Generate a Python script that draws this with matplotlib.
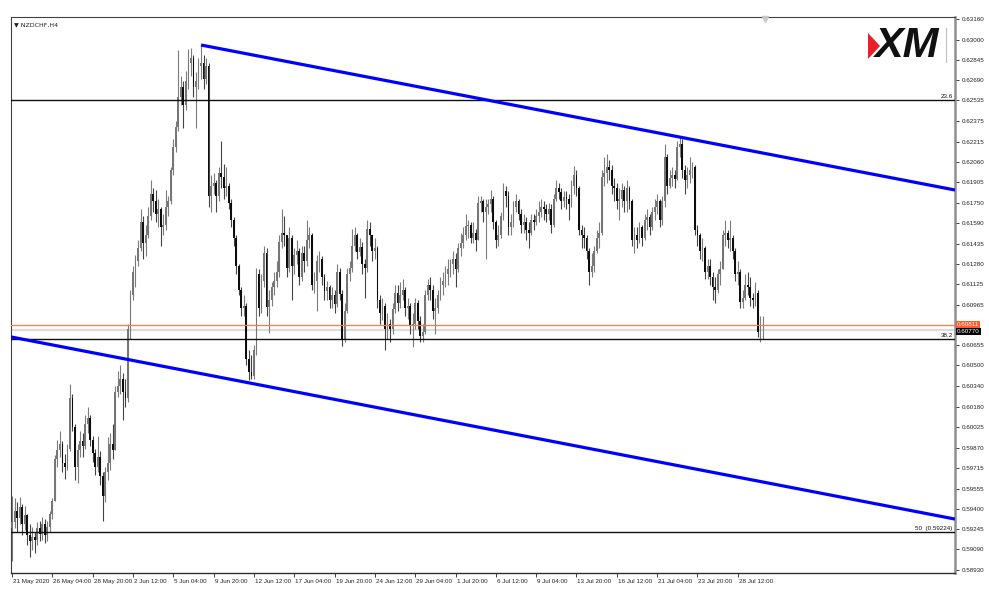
import numpy as np
import matplotlib
matplotlib.use('Agg')
import matplotlib.pyplot as plt
import matplotlib.transforms as mtransforms
from matplotlib.patches import Polygon

plt.rcParams['font.family'] = ['Liberation Sans', 'DejaVu Sans']

# NZDCHF H4 candles (open = previous close)
first_open = 0.5925
closes = [
    0.5930, 0.5938, 0.5933, 0.5941, 0.5928, 0.5935, 0.5920, 0.5915, 0.5918, 0.5916,
    0.5925, 0.5921, 0.5928, 0.5920, 0.5926, 0.5936, 0.5946, 0.5978, 0.5985, 0.5990,
    0.5975, 0.5972, 0.5986, 0.6025, 0.6003, 0.5972, 0.5985, 0.5992, 0.5988, 0.6005,
    0.6010, 0.5993, 0.5983, 0.5972, 0.5980, 0.5965, 0.5950, 0.5968, 0.5975, 0.5990,
    0.5985, 0.6030, 0.6034, 0.6040, 0.6030, 0.6025, 0.6078, 0.6104, 0.6122, 0.6130,
    0.6140, 0.6160, 0.6144, 0.6150, 0.6165, 0.6182, 0.6176, 0.6166, 0.6170, 0.6156,
    0.6158, 0.6172, 0.6176, 0.6200, 0.6218, 0.6233, 0.6256, 0.6264, 0.6250, 0.6268,
    0.6282, 0.6286, 0.6264, 0.6268, 0.6280, 0.6282, 0.6270, 0.6280, 0.6180, 0.6188,
    0.6190, 0.6180, 0.6198, 0.6195, 0.6186, 0.6188, 0.6175, 0.6162, 0.6148, 0.6126,
    0.6108, 0.6094, 0.6096, 0.6055, 0.6045, 0.6042, 0.6062, 0.6120, 0.6094, 0.6115,
    0.6136, 0.6095, 0.6100, 0.6110, 0.6115, 0.6122, 0.6145, 0.6152, 0.6150, 0.6125,
    0.6148, 0.6126, 0.6135, 0.6138, 0.6118, 0.6136, 0.6130, 0.6146, 0.6150, 0.6112,
    0.6115, 0.6130, 0.6132, 0.6118, 0.6107, 0.6110, 0.6100, 0.6104, 0.6097, 0.6122,
    0.6105, 0.6070, 0.6092, 0.6120, 0.6125, 0.6142, 0.6150, 0.6137, 0.6141, 0.6128,
    0.6125, 0.6155, 0.6150, 0.6138, 0.6140, 0.6100, 0.6090, 0.6096, 0.6078, 0.6082,
    0.6078, 0.6093, 0.6106, 0.6098, 0.6104, 0.6108, 0.6094, 0.6096, 0.6080, 0.6082,
    0.6098, 0.6084, 0.6073, 0.6076, 0.6104, 0.6112, 0.6108, 0.6092, 0.6094, 0.6104,
    0.6112, 0.6115, 0.6120, 0.6124, 0.6128, 0.6132, 0.6124, 0.6140, 0.6144, 0.6150,
    0.6157, 0.6158, 0.6148, 0.6152, 0.6146, 0.6175, 0.6176, 0.6168, 0.6172, 0.6174,
    0.6178, 0.6160, 0.6146, 0.6150, 0.6165, 0.6184, 0.6180, 0.6156, 0.6160, 0.6172,
    0.6176, 0.6166, 0.6158, 0.6160, 0.6154, 0.6152, 0.6162, 0.6160, 0.6165, 0.6168,
    0.6172, 0.6170, 0.6166, 0.6170, 0.6158, 0.6178, 0.6186, 0.6183, 0.6176, 0.6179,
    0.6178, 0.6174, 0.6188, 0.6196, 0.6186, 0.6154, 0.6150, 0.6148, 0.6138, 0.6122,
    0.6126, 0.6138, 0.6148, 0.6152, 0.6195, 0.6198, 0.6202, 0.6200, 0.6188, 0.6186,
    0.6176, 0.6178, 0.6185, 0.6176, 0.6186, 0.6176, 0.6146, 0.6150, 0.6146, 0.6156,
    0.6148, 0.6162, 0.6164, 0.6156, 0.6168, 0.6172, 0.6176, 0.6162, 0.6176, 0.6210,
    0.6188, 0.6194, 0.6196, 0.6193, 0.6218, 0.6220, 0.6200, 0.6192, 0.6196, 0.6200,
    0.6202, 0.6154, 0.6150, 0.6138, 0.6140, 0.6122, 0.6126, 0.6118, 0.6110, 0.6108,
    0.6120, 0.6124, 0.6150, 0.6152, 0.6146, 0.6148, 0.6138, 0.6120, 0.6122, 0.6099,
    0.6102, 0.6112, 0.6110, 0.6102, 0.6100, 0.6106, 0.6076, 0.6080, 0.6081,
]
highs = [
    0.5950, 0.5948, 0.5945, 0.5949, 0.5944, 0.5942, 0.5936, 0.5928, 0.5926, 0.5922,
    0.5930, 0.5931, 0.5934, 0.5932, 0.5931, 0.5938, 0.5948, 0.5981, 0.5993, 0.6000,
    0.5992, 0.5982, 0.5990, 0.6036, 0.6028, 0.6005, 0.5990, 0.6000, 0.5998, 0.6012,
    0.6018, 0.6012, 0.5996, 0.5986, 0.5996, 0.5984, 0.5968, 0.5972, 0.5995, 0.5998,
    0.6005, 0.6034, 0.6046, 0.6050, 0.6044, 0.6040, 0.6082, 0.6108, 0.6126, 0.6135,
    0.6146, 0.6170, 0.6165, 0.6158, 0.6172, 0.6192, 0.6186, 0.6185, 0.6178, 0.6172,
    0.6166, 0.6185, 0.6180, 0.6202, 0.6224, 0.6238, 0.6292, 0.6272, 0.6268, 0.6276,
    0.6293, 0.6294, 0.6288, 0.6275, 0.6286, 0.6296, 0.6288, 0.6286, 0.6282, 0.6196,
    0.6198, 0.6192, 0.6202, 0.6222, 0.6205, 0.6202, 0.6190, 0.6178, 0.6164, 0.6150,
    0.6128, 0.6110, 0.6104, 0.6098, 0.6062, 0.6058, 0.6066, 0.6125, 0.6124, 0.6120,
    0.6142, 0.6140, 0.6108, 0.6114, 0.6122, 0.6130, 0.6150, 0.6170, 0.6165, 0.6150,
    0.6156, 0.6150, 0.6140, 0.6146, 0.6140, 0.6142, 0.6142, 0.6162, 0.6156, 0.6152,
    0.6122, 0.6135, 0.6138, 0.6134, 0.6120, 0.6115, 0.6112, 0.6110, 0.6108, 0.6128,
    0.6125, 0.6108, 0.6098, 0.6125, 0.6130, 0.6155, 0.6156, 0.6152, 0.6148, 0.6145,
    0.6132, 0.6162, 0.6160, 0.6150, 0.6148, 0.6142, 0.6104, 0.6102, 0.6098, 0.6090,
    0.6086, 0.6098, 0.6112, 0.6112, 0.6114, 0.6116, 0.6110, 0.6102, 0.6098, 0.6090,
    0.6102, 0.6100, 0.6088, 0.6082, 0.6108, 0.6116, 0.6118, 0.6112, 0.6102, 0.6108,
    0.6118, 0.6122, 0.6126, 0.6132, 0.6132, 0.6138, 0.6136, 0.6144, 0.6152, 0.6156,
    0.6166, 0.6162, 0.6160, 0.6160, 0.6155, 0.6180, 0.6180, 0.6178, 0.6178, 0.6178,
    0.6185, 0.6180, 0.6162, 0.6158, 0.6168, 0.6190, 0.6188, 0.6184, 0.6166, 0.6176,
    0.6182, 0.6178, 0.6170, 0.6166, 0.6164, 0.6160, 0.6166, 0.6166, 0.6170, 0.6176,
    0.6178, 0.6176, 0.6174, 0.6175, 0.6174, 0.6182, 0.6192, 0.6190, 0.6186, 0.6184,
    0.6184, 0.6182, 0.6192, 0.6203, 0.6200, 0.6188, 0.6158, 0.6156, 0.6150, 0.6140,
    0.6136, 0.6142, 0.6154, 0.6160, 0.6200, 0.6210, 0.6212, 0.6208, 0.6204, 0.6194,
    0.6190, 0.6186, 0.6190, 0.6188, 0.6192, 0.6188, 0.6178, 0.6156, 0.6156, 0.6160,
    0.6158, 0.6166, 0.6170, 0.6166, 0.6172, 0.6178, 0.6182, 0.6178, 0.6180, 0.6220,
    0.6212, 0.6200, 0.6202, 0.6200, 0.6222, 0.6226, 0.6224, 0.6204, 0.6202, 0.6210,
    0.6206, 0.6204, 0.6158, 0.6152, 0.6148, 0.6142, 0.6132, 0.6132, 0.6122, 0.6118,
    0.6124, 0.6130, 0.6154, 0.6162, 0.6154, 0.6162, 0.6150, 0.6140, 0.6130, 0.6124,
    0.6108, 0.6120, 0.6122, 0.6118, 0.6106, 0.6114, 0.6108, 0.6088, 0.6088,
]
lows = [
    0.5900, 0.5925, 0.5922, 0.5928, 0.5920, 0.5924, 0.5912, 0.5903, 0.5908, 0.5906,
    0.5912, 0.5915, 0.5916, 0.5914, 0.5915, 0.5922, 0.5932, 0.5946, 0.5972, 0.5980,
    0.5968, 0.5963, 0.5970, 0.5984, 0.6000, 0.5962, 0.5960, 0.5980, 0.5980, 0.5986,
    0.5998, 0.5988, 0.5976, 0.5966, 0.5968, 0.5958, 0.5931, 0.5945, 0.5962, 0.5970,
    0.5978, 0.5985, 0.6026, 0.6028, 0.6008, 0.6018, 0.6022, 0.6070, 0.6100, 0.6110,
    0.6126, 0.6138, 0.6132, 0.6134, 0.6148, 0.6162, 0.6168, 0.6160, 0.6156, 0.6142,
    0.6150, 0.6154, 0.6165, 0.6174, 0.6196, 0.6214, 0.6230, 0.6250, 0.6232, 0.6246,
    0.6262, 0.6272, 0.6256, 0.6232, 0.6262, 0.6270, 0.6262, 0.6266, 0.6172, 0.6168,
    0.6182, 0.6168, 0.6176, 0.6186, 0.6178, 0.6180, 0.6170, 0.6156, 0.6142, 0.6120,
    0.6104, 0.6088, 0.6088, 0.6050, 0.6039, 0.6040, 0.6040, 0.6058, 0.6088, 0.6090,
    0.6110, 0.6088, 0.6075, 0.6096, 0.6104, 0.6110, 0.6118, 0.6140, 0.6142, 0.6118,
    0.6122, 0.6100, 0.6120, 0.6128, 0.6112, 0.6115, 0.6122, 0.6126, 0.6140, 0.6108,
    0.6106, 0.6092, 0.6122, 0.6112, 0.6100, 0.6100, 0.6094, 0.6094, 0.6090, 0.6095,
    0.6100, 0.6065, 0.6068, 0.6090, 0.6115, 0.6122, 0.6138, 0.6132, 0.6134, 0.6120,
    0.6102, 0.6122, 0.6142, 0.6130, 0.6132, 0.6094, 0.6082, 0.6085, 0.6062, 0.6070,
    0.6068, 0.6074, 0.6090, 0.6092, 0.6094, 0.6100, 0.6088, 0.6086, 0.6074, 0.6064,
    0.6078, 0.6078, 0.6068, 0.6068, 0.6074, 0.6100, 0.6100, 0.6086, 0.6074, 0.6090,
    0.6100, 0.6104, 0.6110, 0.6112, 0.6118, 0.6120, 0.6110, 0.6122, 0.6134, 0.6140,
    0.6146, 0.6148, 0.6144, 0.6144, 0.6138, 0.6146, 0.6168, 0.6160, 0.6132, 0.6166,
    0.6168, 0.6155, 0.6140, 0.6142, 0.6148, 0.6162, 0.6172, 0.6150, 0.6150, 0.6156,
    0.6168, 0.6162, 0.6152, 0.6152, 0.6146, 0.6140, 0.6150, 0.6154, 0.6158, 0.6160,
    0.6164, 0.6162, 0.6160, 0.6162, 0.6152, 0.6156, 0.6176, 0.6178, 0.6170, 0.6172,
    0.6170, 0.6162, 0.6172, 0.6182, 0.6180, 0.6150, 0.6140, 0.6140, 0.6132, 0.6112,
    0.6118, 0.6122, 0.6136, 0.6140, 0.6150, 0.6188, 0.6190, 0.6192, 0.6182, 0.6176,
    0.6170, 0.6162, 0.6172, 0.6168, 0.6168, 0.6170, 0.6142, 0.6136, 0.6140, 0.6144,
    0.6142, 0.6146, 0.6154, 0.6150, 0.6154, 0.6162, 0.6166, 0.6156, 0.6158, 0.6172,
    0.6182, 0.6186, 0.6188, 0.6186, 0.6192, 0.6210, 0.6194, 0.6182, 0.6186, 0.6190,
    0.6194, 0.6150, 0.6142, 0.6132, 0.6130, 0.6116, 0.6116, 0.6112, 0.6100, 0.6098,
    0.6106, 0.6112, 0.6124, 0.6142, 0.6140, 0.6138, 0.6132, 0.6115, 0.6112, 0.6094,
    0.6094, 0.6100, 0.6104, 0.6096, 0.6094, 0.6096, 0.6072, 0.6068, 0.6070,
]

date_labels = ["21 May 2020", "26 May 04:00", "28 May 20:00", "2 Jun 12:00", "5 Jun 04:00",
               "9 Jun 20:00", "12 Jun 12:00", "17 Jun 04:00", "19 Jun 20:00", "24 Jun 12:00",
               "29 Jun 04:00", "1 Jul 20:00", "6 Jul 12:00", "9 Jul 04:00", "13 Jul 20:00",
               "16 Jul 12:00", "21 Jul 04:00", "23 Jul 20:00", "28 Jul 12:00"]
bars_per_label = 16

price_ticks = [0.63160, 0.63000, 0.62845, 0.62690, 0.62535, 0.62375, 0.62215, 0.62060,
               0.61905, 0.61750, 0.61590, 0.61435, 0.61280, 0.61125, 0.60965, 0.60655,
               0.60500, 0.60340, 0.60180, 0.60025, 0.59870, 0.59715, 0.59555, 0.59400,
               0.59245, 0.59090, 0.58930]

# trend channel (bar index, price) and fibo levels
upper_trend = [(75, 0.62960), (374.2, 0.61847)]
lower_trend = [(-0.4, 0.60719), (374.2, 0.59321)]
fib_levels = [("23.6", 0.62540), ("38.2", 0.60706), ("50  (0.59224)", 0.59224)]
bid, ask = 0.60811, 0.60770

W, H = 989, 590
fig = plt.figure(figsize=(W / 100, H / 100), dpi=100)
fig.patch.set_facecolor('white')
ax = fig.add_axes([11 / W, 17 / H, 944 / W, 556 / H])

closes = np.array(closes)
highs = np.array(highs)
lows = np.array(lows)
opens = np.concatenate([[first_open], closes[:-1]])
idx = np.arange(len(closes))
up = closes >= opens
hi = np.maximum(highs, np.maximum(opens, closes))
lo = np.minimum(lows, np.minimum(opens, closes))

bull_col = '#767676'
bear_col = '#0d0d0d'
ax.vlines(idx[up], lo[up], hi[up], color='#7c7c7c', lw=0.8, zorder=2)
ax.vlines(idx[~up], lo[~up], hi[~up], color='#444444', lw=0.8, zorder=2)
body_lo = np.minimum(opens, closes)
body_h = np.maximum(np.abs(closes - opens), 0.00005)
ax.bar(idx[up], body_h[up], bottom=body_lo[up], width=0.72, color=bull_col, lw=0, zorder=3)
ax.bar(idx[~up], body_h[~up], bottom=body_lo[~up], width=0.72, color=bear_col, lw=0, zorder=3)

x0, x1 = -0.4, 374.2
y0, y1 = 0.58907, 0.63175
ax.set_xlim(x0, x1)
ax.set_ylim(y0, y1)

# horizontal levels
for name, lvl in fib_levels:
    ax.axhline(lvl, color='#111111', lw=1.0, zorder=4)
ax.axhline(ask, color='#dcdcdc', lw=1.6, zorder=1)
ax.axhline(bid, color='#ff7a45', lw=0.9, zorder=4)

# channel lines
for line in (upper_trend, lower_trend):
    xs, ys = zip(*line)
    ax.plot(xs, ys, color='#0000ff', lw=2.3, solid_capstyle='butt', zorder=5)

trans = mtransforms.blended_transform_factory(ax.transAxes, ax.transData)
for name, lvl in fib_levels:
    ax.text(0.9975, lvl + 0.00003, name, transform=trans, ha='right', va='bottom',
            fontsize=4.5, color='#111111', zorder=6)

# axes styling
ax.set_facecolor('white')
ax.spines['left'].set_color('#404040')
ax.spines['top'].set_color('#404040')
ax.spines['bottom'].set_color('#303030')
ax.spines['right'].set_color('#909090')
ax.spines['left'].set_linewidth(0.8)
ax.spines['top'].set_linewidth(0.8)
ax.spines['bottom'].set_linewidth(1.0)
ax.spines['right'].set_linewidth(1.8)

ax.yaxis.tick_right()
ax.set_yticks(price_ticks)
ax.set_yticklabels([f"{p:.5f}" for p in price_ticks])
ax.tick_params(axis='y', direction='out', length=3, width=0.6, pad=1.5,
               labelsize=4.5, colors='#222222')

ax.set_xticks(np.arange(len(date_labels)) * bars_per_label)
ax.set_xticklabels(date_labels, ha='left')
ax.tick_params(axis='x', direction='out', length=3, width=0.6, pad=1.0,
               labelsize=4.5, colors='#222222')
offset = mtransforms.ScaledTranslation(1 / 100, 0, fig.dpi_scale_trans)
for lab in ax.get_xticklabels():
    lab.set_transform(lab.get_transform() + offset)

# price boxes on the right axis
ax.text(1.0022, bid + 0.00002, f"{bid:.5f}", transform=trans, ha='left', va='center',
        fontsize=4.5, color='white', zorder=7, clip_on=False,
        bbox=dict(boxstyle='square,pad=0.12', facecolor='#ff5a2a', edgecolor='none'))
ax.text(1.0022, ask - 0.00008, f"{ask:.5f}", transform=trans, ha='left', va='center',
        fontsize=4.5, color='white', zorder=7, clip_on=False,
        bbox=dict(boxstyle='square,pad=0.12', facecolor='#000000', edgecolor='none'))

# header
ax.text(0.003, 0.99, "\u25bc NZDCHF,H4", transform=ax.transAxes, ha='left', va='top',
        fontsize=4.5, color='#222222', family=['DejaVu Sans'])

# chart shift marker
ax.plot([(765 - 11) / 944], [0.996], marker='v', markersize=4,
        color='#c8c8c8', transform=ax.transAxes, clip_on=False, zorder=7)

# XM logo
fig.text(875 / W, 1 - 46 / H, "XM", fontsize=31, fontweight='bold', fontstyle='italic',
         ha='left', va='center', color='#111111', family=['Liberation Sans'])
fig.patches.append(Polygon([[868 / W, 1 - 33 / H], [880 / W, 1 - 46 / H], [868 / W, 1 - 59 / H]],
                           closed=True, facecolor='#e8202a', edgecolor='none',
                           transform=fig.transFigure, figure=fig))
fig.add_artist(plt.Line2D([946 / W, 946 / W], [1 - 28 / H, 1 - 62 / H], color='#c0c0c0',
                          lw=0.8, transform=fig.transFigure))

fig.savefig('out.png', dpi=100, facecolor='white')
